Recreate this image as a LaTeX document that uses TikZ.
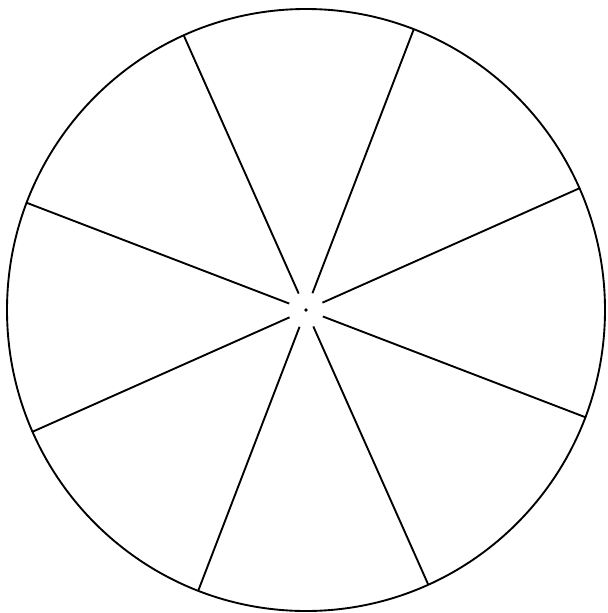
\documentclass[tikz,border=0pt]{standalone}
\usetikzlibrary{calc}

\begin{document}
\begin{tikzpicture}[x=0.03cm,y=-0.03cm,line width=1.6pt]
  \useasboundingbox (0,0) rectangle (607,613);
  \coordinate (hub) at (306,310);

  \draw (hub) ellipse [x radius=299, y radius=301];

  % spokes, with a gap round the hub
  \foreach \a in {0,...,7}{%
    \draw ($(hub)+({21+45*\a}:18)$) -- ($(hub)+({21+45*\a}:300)$);
  }

  \fill (hub) circle (1.8);
\end{tikzpicture}
\end{document}
